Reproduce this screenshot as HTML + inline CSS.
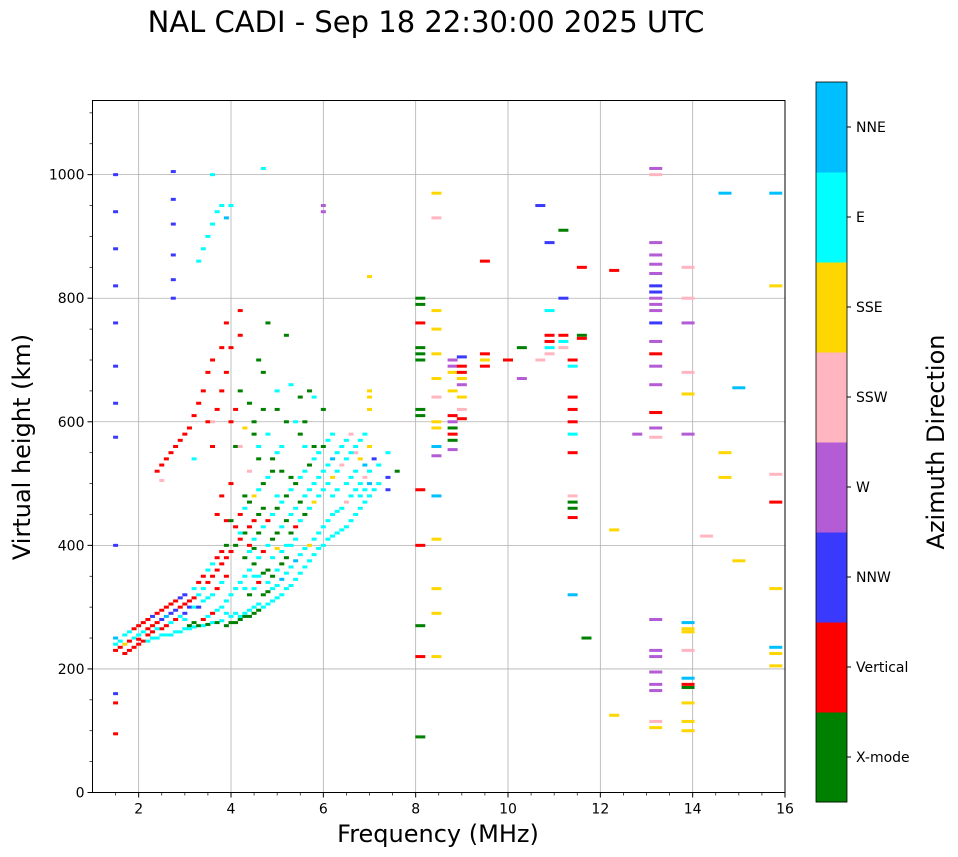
<!DOCTYPE html>
<html><head><meta charset="utf-8">
<style>
html,body{margin:0;padding:0;background:#fff;}
svg{display:block;font-family:"DejaVu Sans","Liberation Sans",sans-serif;}
</style></head>
<body>
<svg id="chart" width="958" height="857" viewBox="0 0 958 857" xmlns="http://www.w3.org/2000/svg">
<text x="426" y="32" font-size="29" text-anchor="middle">NAL CADI - Sep 18 22:30:00 2025 UTC</text>
<g id="grid"></g>
<g id="marks"></g>
<rect x="92.5" y="100.5" width="692.5" height="692" fill="none" stroke="#000" stroke-width="1"/>
<g id="axes"></g>
<text x="438" y="842" font-size="24" text-anchor="middle">Frequency (MHz)</text>
<text transform="translate(30,447) rotate(-90)" font-size="24" text-anchor="middle">Virtual height (km)</text>
<g id="cbar"></g>
<text transform="translate(944,442) rotate(-90)" font-size="24" text-anchor="middle">Azimuth Direction</text>
</svg>
<script>
const directions = ["X-mode","Vertical","NNW","W","SSW","SSE","E","NNE"];
const dirColors = ["#008000","#ff0000","#3a3aff","#b45bd6","#ffb6c1","#ffd700","#00ffff","#00bfff"];
const xTicks = [2,4,6,8,10,12,14,16];
const yTicks = [0,200,400,600,800,1000];
// echoes: [frequency MHz, virtual height km, direction index]
const echoes = [
[1.5,230,1],[1.5,240,6],[1.5,250,7],[1.6,235,1],[1.6,245,6],[1.7,225,1],[1.7,240,5],[1.7,255,6],
[1.8,230,1],[1.8,245,1],[1.8,260,6],[1.9,235,1],[1.9,250,6],[1.9,265,1],[2.0,240,1],[2.0,255,6],[2.0,270,1],
[2.1,245,1],[2.1,260,6],[2.1,275,1],[2.2,245,6],[2.2,265,1],[2.2,280,1],[2.3,250,6],[2.3,270,1],[2.3,285,2],
[2.4,250,6],[2.4,275,1],[2.4,290,1],[2.5,255,6],[2.5,280,2],[2.5,295,1],[2.6,255,6],[2.6,285,7],[2.6,300,1],
[2.7,255,6],[2.7,290,2],[2.7,305,1],[2.8,260,6],[2.8,295,2],[2.8,310,1],[2.9,260,6],[2.9,300,1],[2.9,315,2],
[3.0,265,6],[3.0,305,1],[3.0,320,2],[3.1,265,6],[3.1,270,0],[3.1,310,1],[3.2,268,6],[3.2,275,0],[3.2,315,1],[3.2,330,6],
[3.3,270,0],[3.3,320,6],[3.3,340,1],[3.4,270,6],[3.4,280,1],[3.4,330,6],[3.4,350,1],[3.5,272,0],[3.5,285,6],[3.5,340,1],[3.5,360,6],
[3.6,275,6],[3.6,290,1],[3.6,350,1],[3.6,370,6],[3.7,275,0],[3.7,295,6],[3.7,360,1],[3.7,380,1],
[3.8,278,6],[3.8,300,6],[3.8,370,1],[3.8,390,1],[3.9,270,0],[3.9,290,6],[3.9,310,6],[3.9,380,1],[3.9,400,0],
[4.0,275,0],[4.0,285,6],[4.0,320,6],[4.0,390,1],[4.1,275,0],[4.1,290,6],[4.1,330,6],[4.1,400,0],
[4.2,280,0],[4.2,285,6],[4.2,340,6],[4.2,410,1],[4.3,285,0],[4.3,290,6],[4.3,350,6],[4.3,420,0],
[4.4,285,0],[4.4,295,6],[4.4,360,6],[4.4,430,1],[4.5,290,0],[4.5,300,6],[4.5,370,0],[4.5,440,1],
[4.6,295,0],[4.6,305,6],[4.6,380,6],[4.6,450,0],[4.7,300,6],[4.7,320,0],[4.7,390,1],[4.7,460,0],
[4.8,305,6],[4.8,325,0],[4.8,400,6],[4.9,310,6],[4.9,330,6],[4.9,410,0],[5.0,315,6],[5.0,335,6],[5.0,420,0],[5.0,480,6],
[5.1,320,6],[5.1,345,7],[5.1,430,6],[5.2,330,6],[5.2,355,6],[5.2,440,0],[5.3,335,6],[5.3,365,6],[5.3,450,6],
[5.4,345,6],[5.4,375,7],[5.4,460,6],[5.5,355,6],[5.5,385,6],[5.5,470,0],[5.6,365,6],[5.6,395,6],[5.6,480,6],
[5.7,375,6],[5.7,400,5],[5.7,490,6],[5.8,385,6],[5.8,410,6],[5.8,500,6],[5.9,395,6],[5.9,420,6],[5.9,510,6],
[6.0,400,6],[6.0,430,6],[6.0,520,6],[6.1,410,6],[6.1,440,6],[6.1,530,6],[6.2,415,6],[6.2,450,6],[6.2,540,7],
[6.3,420,6],[6.3,455,6],[6.3,550,6],[6.4,425,6],[6.4,460,6],[6.4,560,6],[6.5,430,6],[6.5,470,4],[6.5,570,6],
[6.6,440,6],[6.6,480,6],[6.6,580,4],[6.7,450,6],[6.7,490,6],[6.7,550,4],[6.8,460,6],[6.8,500,6],[6.8,540,5],
[6.9,470,6],[6.9,510,4],[6.9,530,7],[7.0,480,6],[7.0,520,6],[7.0,560,5],[7.1,490,6],[7.1,540,2],[7.2,500,6],[7.2,530,6],
[7.4,490,2],[7.4,510,2],[7.4,550,6],[7.6,520,0],
[4.2,650,0],[4.4,630,0],[4.6,700,0],[4.7,680,0],[4.8,760,0],[4.5,600,0],[5.0,620,0],[5.2,740,0],[5.5,580,0],[5.8,560,0],
[4.9,520,0],[4.3,480,0],[5.3,510,0],[5.6,600,0],[6.0,620,0],[4.1,560,0],[4.6,540,0],[5.1,560,6],[5.4,600,6],[5.8,640,6],
[2.4,520,1],[2.5,530,1],[2.6,540,1],[2.7,550,1],[2.8,560,1],[2.9,570,1],[3.0,580,1],[3.1,590,1],[3.2,610,1],[3.3,630,1],
[3.4,650,1],[3.5,680,1],[3.6,700,1],[3.8,720,1],[3.9,760,1],[3.7,450,1],[3.8,480,1],[3.9,440,1],[4.0,500,1],[3.6,560,1],
[3.5,600,1],[4.2,780,1],[4.2,740,1],[2.5,505,4],[3.2,540,6],
[4.8,360,0],[4.9,380,6],[5.0,395,5],[5.1,370,0],[5.2,400,6],[5.3,420,0],[5.4,430,1],[5.5,440,6],[5.6,450,0],[5.7,460,6],
[5.8,470,5],[5.9,480,6],[6.0,490,6],[6.1,500,6],[6.2,510,5],[6.3,520,6],[6.4,530,4],[6.5,540,6],[6.6,550,6],[6.7,560,6],
[6.8,570,6],[6.9,580,6],[6.5,500,6],[6.6,510,6],[6.7,520,6],[6.8,480,6],[6.9,490,6],[7.0,500,7],[6.3,490,6],[6.2,480,6],
[4.5,350,6],[4.6,340,1],[4.7,355,0],[4.8,340,6],[4.9,350,0],[5.0,360,6],[5.1,390,6],[5.2,380,0],[5.3,400,6],[5.4,410,6],
[4.4,400,1],[4.5,410,6],[4.6,420,0],[4.7,430,6],[4.8,440,1],[4.9,450,6],[5.0,460,0],[5.1,470,6],[5.2,480,0],[5.3,490,6],
[5.4,500,0],[5.5,510,6],[5.6,520,6],[5.7,530,0],[5.8,540,6],[5.9,550,6],[6.0,560,0],[6.1,570,6],[6.2,580,6],
[4.2,450,1],[4.3,460,6],[4.4,470,0],[4.5,480,5],[4.6,490,6],[4.7,500,0],[4.8,510,6],[4.9,540,0],[5.0,550,6],[5.1,520,0],
[4.0,440,0],[4.1,430,1],[4.2,420,6],[4.3,380,0],[4.4,390,6],[4.5,395,0],[4.3,330,6],[4.4,320,0],[4.5,330,6],[4.6,350,6],
[3.0,290,2],[3.1,300,2],[3.2,300,6],[3.3,300,2],[3.4,310,6],[3.5,315,6],[3.6,320,6],[3.7,330,1],[3.8,340,6],[3.9,350,1],
[2.5,265,1],[2.6,270,1],[2.7,275,6],[2.8,280,1],[2.9,285,6],[3.0,280,6],[2.2,255,1],[2.3,260,1],[2.4,265,6],[2.0,248,1],
[4.0,600,1],[4.1,620,1],[4.2,560,4],[4.3,590,5],[4.5,580,0],[4.7,620,0],[5.0,650,6],[5.3,660,6],[5.5,640,0],[5.7,650,0],
[3.8,650,1],[3.9,680,1],[4.0,720,1],[3.7,620,1],[3.6,600,4],[4.4,520,4],[4.6,560,6],[4.8,580,6],[5.2,600,0],[5.6,560,6],
[3.3,860,6],[3.4,880,6],[3.5,900,6],[3.6,920,6],[3.7,940,6],[3.8,950,6],[3.6,1000,6],[4.0,950,6],[3.9,930,7],[4.7,1010,6],
[1.5,1000,2],[1.5,940,2],[1.5,880,2],[1.5,820,2],[1.5,760,2],[1.5,690,2],[1.5,630,2],[1.5,575,2],[1.5,400,2],[1.5,160,2],[1.5,145,1],[1.5,95,1],
[2.75,1005,2],[2.75,960,2],[2.75,920,2],[2.75,870,2],[2.75,830,2],[2.75,800,2],
[6.0,950,3],[6.0,940,3],[7.0,835,5],[7.0,650,5],[7.0,640,5],[7.0,620,5],
[8.1,800,0],[8.1,790,0],[8.1,720,0],[8.1,710,0],[8.1,700,0],[8.1,620,0],[8.1,610,0],[8.1,490,1],[8.1,400,1],[8.1,270,0],[8.1,220,1],[8.1,90,0],[8.1,760,1],
[8.45,970,5],[8.45,930,4],[8.45,780,5],[8.45,750,5],[8.45,710,5],[8.45,670,5],[8.45,640,4],[8.45,600,5],[8.45,590,5],[8.45,560,7],[8.45,545,3],[8.45,480,7],[8.45,410,5],[8.45,330,5],[8.45,290,5],[8.45,220,5],
[8.8,700,3],[8.8,690,3],[8.8,680,5],[8.8,650,5],[8.8,610,1],[8.8,600,3],[8.8,590,0],[8.8,580,1],[8.8,570,0],[8.8,555,3],
[9.0,705,2],[9.0,690,1],[9.0,680,1],[9.0,670,5],[9.0,660,3],[9.0,640,5],[9.0,620,4],[9.0,605,1],
[9.5,860,1],[9.5,710,1],[9.5,700,5],[9.5,690,1],[10.0,700,1],[10.3,720,0],[10.3,670,3],[10.7,950,2],[10.7,700,4],
[10.9,890,2],[10.9,780,6],[10.9,740,1],[10.9,730,1],[10.9,720,6],[10.9,710,4],
[11.2,910,0],[11.2,800,2],[11.2,740,1],[11.2,730,6],[11.2,720,4],
[11.4,700,1],[11.4,690,6],[11.4,640,1],[11.4,620,1],[11.4,600,1],[11.4,580,6],[11.4,550,1],[11.4,480,4],[11.4,470,0],[11.4,460,0],[11.4,445,1],[11.4,320,7],
[11.6,850,1],[11.6,740,0],[11.6,735,1],[11.7,250,0],[12.3,845,1],[12.3,425,5],[12.3,125,5],[12.8,580,3],
[13.2,1010,3],[13.2,1000,4],[13.2,890,3],[13.2,870,3],[13.2,855,3],[13.2,840,3],[13.2,820,2],[13.2,810,2],[13.2,800,3],[13.2,790,3],[13.2,780,3],[13.2,760,2],
[13.2,730,3],[13.2,710,1],[13.2,690,3],[13.2,660,3],[13.2,615,1],[13.2,590,3],[13.2,575,4],[13.2,280,3],[13.2,230,3],[13.2,220,3],[13.2,195,3],[13.2,175,3],[13.2,165,3],[13.2,115,4],[13.2,105,5],
[13.9,850,4],[13.9,800,4],[13.9,760,3],[13.9,680,4],[13.9,645,5],[13.9,580,3],[13.9,275,7],[13.9,265,5],[13.9,260,5],[13.9,230,4],[13.9,185,7],[13.9,175,1],[13.9,170,0],[13.9,145,5],[13.9,115,5],[13.9,100,5],
[14.3,415,4],[14.7,970,7],[14.7,550,5],[14.7,510,5],[15.0,655,7],[15.0,375,5],
[15.8,970,7],[15.8,820,5],[15.8,515,4],[15.8,470,1],[15.8,330,5],[15.8,235,7],[15.8,225,5],[15.8,205,5]
];

const NS="http://www.w3.org/2000/svg";
const X0=92.5,X1=785,Y0=792.5,Y1=100.5;
const fMin=1,fMax=16,hMin=0,hMax=1120;
function xScale(f){return X0+(f-fMin)/(fMax-fMin)*(X1-X0);}
function yScale(h){return Y0-(h-hMin)/(hMax-hMin)*(Y0-Y1);}
function mk(tag,attrs,parent){const e=document.createElementNS(NS,tag);for(const k in attrs)e.setAttribute(k,attrs[k]);parent.appendChild(e);return e;}

const grid=document.getElementById('grid'),axes=document.getElementById('axes'),marks=document.getElementById('marks'),cbar=document.getElementById('cbar');
xTicks.forEach(t=>{const x=xScale(t);
 if(t<fMax){const g=mk('line',{x1:x,x2:x,y1:Y1,y2:Y0,stroke:'#b0b0b0','stroke-width':0.8},grid);
 }
 const tk=mk('line',{x1:x,x2:x,y1:Y0,y2:Y0+5,stroke:'#000'},axes);
 
 const tl=mk('text',{x:x,y:Y0+21,'font-size':14,'text-anchor':'middle'},axes);tl.textContent=t;
 });
for(let f=1.5;f<16;f+=0.5){if(Number.isInteger(f/2))continue;const x=xScale(f);
 const m=mk('line',{x1:x,x2:x,y1:Y0,y2:Y0+3,stroke:'#000','stroke-width':0.7},axes);
 }
yTicks.forEach(t=>{const y=yScale(t);
 if(t>0){const g=mk('line',{x1:X0,x2:X1,y1:y,y2:y,stroke:'#b0b0b0','stroke-width':0.8},grid);
 }
 const tk=mk('line',{x1:X0-5,x2:X0,y1:y,y2:y,stroke:'#000'},axes);
 
 const tl=mk('text',{x:X0-8,y:y+5,'font-size':14,'text-anchor':'end'},axes);tl.textContent=t;
 });
for(let h=50;h<hMax;h+=50){if(h%200===0)continue;const y=yScale(h);
 const m=mk('line',{x1:X0-3,x2:X0,y1:y,y2:y,stroke:'#000','stroke-width':0.7},axes);
 }

echoes.forEach(e=>{const f=e[0],h=e[1],c=e[2];
 const w=f<8?5:(f<13?10:13);
 const r=mk('rect',{x:xScale(f)-w/2,y:yScale(h)-1.5,width:w,height:3,fill:dirColors[c]},marks);
 
 });

const CX=816,CW=31,CT=82,CB=802,n=directions.length,bh=(CB-CT)/n;
directions.forEach((d,i)=>{const y=CB-(i+1)*bh;
 const r=mk('rect',{x:CX,y:y,width:CW,height:bh+0.5,fill:dirColors[i]},cbar);
 
 const tk=mk('line',{x1:CX+CW,x2:CX+CW+4,y1:y+bh/2,y2:y+bh/2,stroke:'#000'},cbar);
 
 const t=mk('text',{x:CX+CW+9,y:y+bh/2+5,'font-size':14},cbar);t.textContent=d;
 });
const fr=mk('rect',{x:CX,y:CT,width:CW,height:CB-CT,fill:'none',stroke:'#000','stroke-width':0.8},cbar);

</script>
</body></html>
